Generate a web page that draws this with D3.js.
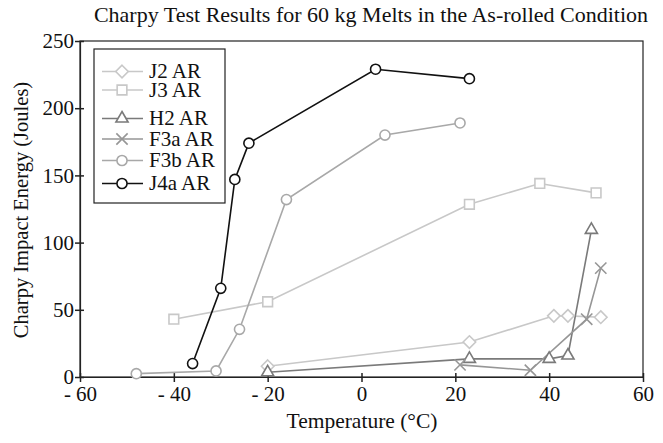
<!DOCTYPE html>
<html>
<head>
<meta charset="utf-8">
<script src="https://cdn.jsdelivr.net/npm/d3@7"></script>
<style>
  body { margin: 0; background: #fff; }
  svg text { font-family: "Liberation Serif", "Times New Roman", Times, "DejaVu Serif", serif; fill: #111; }
</style>
</head>
<body>
<div id="chart"></div>
<script>
// Data: [temperature °C, energy J]
const seriesNames = ["J2 AR", "J3 AR", "H2 AR", "F3a AR", "F3b AR", "J4a AR"];
const j2 = [[-20, 8], [23, 26], [41, 45.5], [44, 45.5], [51, 44.5]];
const j3 = [[-40, 43], [-20, 56], [23, 128.5], [38, 144], [50, 137]];
const h2 = [[-20, 3.5], [23, 13.5], [40, 13.5], [44, 16], [49, 109.5]];
const f3a = [[21, 9], [36, 5], [48, 43], [51, 81]];
const f3b = [[-48, 2.5], [-31, 4.5], [-26, 35.5], [-16, 132], [5, 180], [21, 189]];
const j4a = [[-36, 10], [-30, 66], [-27, 147], [-24, 174], [3, 229], [23, 222]];
const seriesData = [j2, j3, h2, f3a, f3b, j4a];
const xTicks = [-60, -40, -20, 0, 20, 40, 60];
const yTicks = [0, 50, 100, 150, 200, 250];

const colors = ["#c8c8c8", "#c8c8c8", "#7a7a7a", "#969696", "#a8a8a8", "#111111"];
const shapes = [d3.symbolDiamond2, d3.symbolSquare2, d3.symbolTriangle2, d3.symbolTimes, d3.symbolCircle, d3.symbolCircle];
const sizes = [100, 120, 105, 85, 80, 80];

const W = 663, H = 443;
const margin = { top: 41, right: 20, bottom: 66, left: 80 };
const width = W - margin.left - margin.right;
const height = H - margin.top - margin.bottom;
const serif = '"Liberation Serif", "Times New Roman", Times, "DejaVu Serif", serif';

const svg = d3.select("#chart").append("svg")
    .attr("width", W)
    .attr("height", H);

const g = svg.append("g")
    .attr("transform", `translate(${margin.left},${margin.top})`);

const x = d3.scaleLinear().domain([-60, 60]).range([0, width]);
const y = d3.scaleLinear().domain([0, 250]).range([height, 0]);

// frame
g.append("rect")
    .attr("width", width)
    .attr("height", height)
    .attr("fill", "none")
    .attr("stroke", "#222")
    .attr("stroke-width", 1.2);

const fmt = d => d < 0 ? "- " + Math.abs(d) : String(d);

const xAxis = g.append("g")
    .attr("transform", `translate(0,${height})`)
    .call(d3.axisBottom(x).tickValues(xTicks).tickFormat(fmt).tickSize(4).tickSizeOuter(0));
const yAxis = g.append("g")
    .call(d3.axisLeft(y).tickValues(yTicks).tickSize(4).tickSizeOuter(0));

[xAxis, yAxis].forEach(a => {
    a.attr("font-family", null);
    a.select(".domain").attr("stroke", "#222").attr("stroke-width", 1.2);
    a.selectAll(".tick line").attr("stroke", "#222").attr("stroke-width", 1.5);
    a.selectAll(".tick text")
        .style("font-family", serif)
        .style("font-size", "21px")
        .attr("fill", "#111");
});
// ticks cross the axis line
xAxis.selectAll(".tick line").attr("y1", -4).attr("y2", 5);
xAxis.selectAll(".tick text").attr("y", 9);
yAxis.selectAll(".tick line").attr("x1", 4).attr("x2", -5);
yAxis.selectAll(".tick text").attr("x", -6);

const line = d3.line().x(d => x(d[0])).y(d => y(d[1]));

seriesData.forEach((data, i) => {
    g.append("path")
        .datum(data)
        .attr("d", line)
        .attr("fill", "none")
        .attr("stroke", colors[i])
        .attr("stroke-width", 1.6);
});
seriesData.forEach((data, i) => {
    g.selectAll(".m" + i)
        .data(data)
      .enter().append("path")
        .attr("transform", d => `translate(${x(d[0])},${y(d[1])})`)
        .attr("d", d3.symbol().type(shapes[i]).size(sizes[i]))
        .attr("fill", "#fff")
        .attr("stroke", colors[i])
        .attr("stroke-width", 1.6);
});

// legend
const legend = svg.append("g");
legend.append("rect")
    .attr("x", 94).attr("y", 49)
    .attr("width", 131).attr("height", 154)
    .attr("fill", "#fff")
    .attr("stroke", "#222")
    .attr("stroke-width", 1.2);
const rowY = [71.5, 90, 118.5, 139, 160.5, 183.5];
seriesNames.forEach((name, i) => {
    const ly = rowY[i];
    legend.append("line")
        .attr("x1", 102).attr("x2", 143)
        .attr("y1", ly).attr("y2", ly)
        .attr("stroke", colors[i])
        .attr("stroke-width", 1.6);
    legend.append("path")
        .attr("transform", `translate(122,${ly})`)
        .attr("d", d3.symbol().type(shapes[i]).size(sizes[i]))
        .attr("fill", "#fff")
        .attr("stroke", colors[i])
        .attr("stroke-width", 1.6);
    legend.append("text")
        .attr("x", 149).attr("y", ly + 6.5)
        .style("font-family", serif)
        .style("font-size", "21px")
        .text(name);
});

// titles
svg.append("text")
    .attr("x", 371).attr("y", 22)
    .attr("text-anchor", "middle")
    .style("font-family", serif)
    .style("font-size", "22px")
    .text("Charpy Test Results for 60 kg Melts in the As-rolled Condition");

svg.append("text")
    .attr("x", 362).attr("y", 428)
    .attr("text-anchor", "middle")
    .style("font-family", serif)
    .style("font-size", "21.5px")
    .text("Temperature (°C)");

svg.append("text")
    .attr("transform", "translate(28,210) rotate(-90)")
    .attr("text-anchor", "middle")
    .style("font-family", serif)
    .style("font-size", "20.5px")
    .text("Charpy Impact Energy (Joules)");
</script>
</body>
</html>
